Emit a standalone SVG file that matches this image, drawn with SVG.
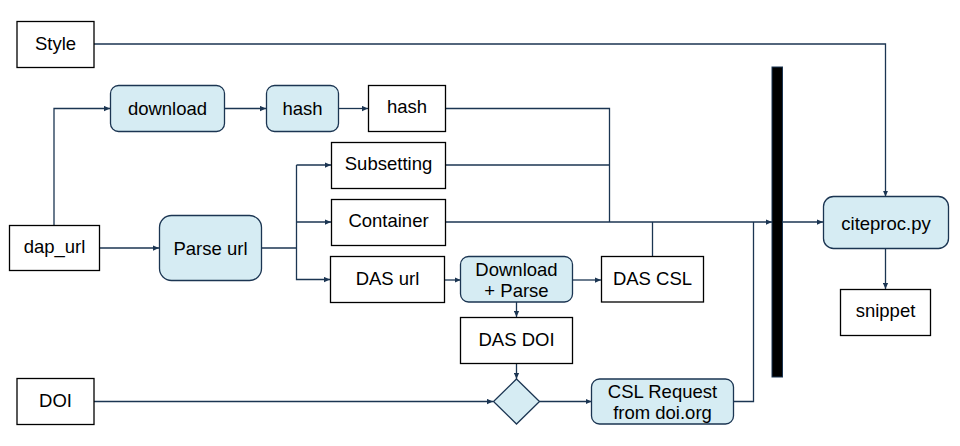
<svg xmlns="http://www.w3.org/2000/svg" width="960" height="446" viewBox="0 0 960 446">
<style>
.box{fill:#ffffff;stroke:#000000;stroke-width:1.3}
.proc{fill:#d6ecf3;stroke:#1b3552;stroke-width:1.3}
.t{font-family:"Liberation Sans",Arial,sans-serif;font-size:18.5px;fill:#000000;text-anchor:middle;dominant-baseline:central}
.c{fill:none;stroke:#1b3552;stroke-width:1.3}
.a{marker-end:url(#arr)}
</style>
<defs>
<marker id="arr" viewBox="0 0 8 8" refX="8" refY="4" markerWidth="6" markerHeight="6" markerUnits="userSpaceOnUse" orient="auto">
<path d="M0,0.5 L8,4 L0,7.5 Z" fill="#1b3552"/>
</marker>
</defs>
<rect width="960" height="446" fill="#ffffff"/>
<g id="connectors">
<path class="c a" d="M94,44 H885.5 V196.5"/>
<path class="c a" d="M54,225 V108.5 H110"/>
<path class="c a" d="M224,108.5 H266"/>
<path class="c a" d="M338,108.5 H368"/>
<path class="c" d="M445,108.5 H609.5 V222"/>
<path class="c" d="M445,165 H609.5"/>
<path class="c a" d="M99,248 H159"/>
<path class="c" d="M261,248 H296.5"/>
<path class="c a" d="M296.5,165 V279.5 H330"/>
<path class="c a" d="M296.5,165 H331"/>
<path class="c a" d="M296.5,222 H331"/>
<path class="c a" d="M445,222 H772"/>
<path class="c" d="M652.5,256.5 V222"/>
<path class="c a" d="M444,280 H460.5"/>
<path class="c a" d="M572,280 H601"/>
<path class="c a" d="M516.5,302 V317"/>
<path class="c a" d="M516.5,363 V379"/>
<path class="c a" d="M94,401.5 H493"/>
<path class="c a" d="M539.5,401.5 H591.5"/>
<path class="c" d="M733,401.5 H753.5 V222"/>
<path class="c a" d="M783,222 H823"/>
<path class="c a" d="M885.5,248 V289"/>
</g>
<g id="bar"><rect x="772" y="67" width="10.5" height="310" fill="#000000" stroke="#1b3552" stroke-width="1"/></g>
<g id="style"><rect class="box" x="17" y="21.5" width="77" height="46"/><text class="t" x="55.5" y="43">Style</text></g>
<g id="download"><rect class="proc" x="110.5" y="85.5" width="114" height="46" rx="8"/><text class="t" x="167.5" y="108">download</text></g>
<g id="hash1"><rect class="proc" x="266.5" y="85.5" width="72" height="46" rx="8"/><text class="t" x="302.5" y="108">hash</text></g>
<g id="hash2"><rect class="box" x="368.5" y="85.5" width="77" height="46"/><text class="t" x="407" y="106">hash</text></g>
<g id="subsetting"><rect class="box" x="331.5" y="142.5" width="114" height="46"/><text class="t" x="388.5" y="163">Subsetting</text></g>
<g id="container"><rect class="box" x="331.5" y="199.5" width="114" height="46"/><text class="t" x="388.5" y="220">Container</text></g>
<g id="dap_url"><rect class="box" x="9.5" y="225.5" width="90" height="45"/><text class="t" x="54.5" y="246">dap_url</text></g>
<g id="parse_url"><rect class="proc" x="159.5" y="215.5" width="102" height="65" rx="12"/><text class="t" x="210.5" y="248">Parse url</text></g>
<g id="das_url"><rect class="box" x="330.5" y="256.5" width="114" height="46"/><text class="t" x="387.5" y="278">DAS url</text></g>
<g id="download_parse"><rect class="proc" x="460.5" y="256.5" width="112" height="45.5" rx="8"/><text class="t" x="516.5" y="269.5">Download</text><text class="t" x="516.5" y="290.5">+ Parse</text></g>
<g id="das_csl"><rect class="box" x="601.5" y="256.5" width="102" height="45.5"/><text class="t" x="652.5" y="278">DAS CSL</text></g>
<g id="das_doi"><rect class="box" x="460.5" y="317.5" width="112" height="46"/><text class="t" x="516.5" y="339">DAS DOI</text></g>
<g id="doi"><rect class="box" x="17" y="378.5" width="77" height="46"/><text class="t" x="55.5" y="400">DOI</text></g>
<g id="decision"><path class="proc" d="M516.5,379 L539.5,401.5 L516.5,424 L493.5,401.5 Z"/></g>
<g id="csl_request"><rect class="proc" x="591.5" y="379" width="142" height="45" rx="8"/><text class="t" x="662.5" y="391.5">CSL Request</text><text class="t" x="662.5" y="412.5">from doi.org</text></g>
<g id="citeproc"><rect class="proc" x="823.5" y="196.5" width="125" height="52" rx="10"/><text class="t" x="886" y="223">citeproc.py</text></g>
<g id="snippet"><rect class="box" x="840.5" y="289.5" width="90" height="46"/><text class="t" x="885.5" y="310">snippet</text></g>
</svg>
